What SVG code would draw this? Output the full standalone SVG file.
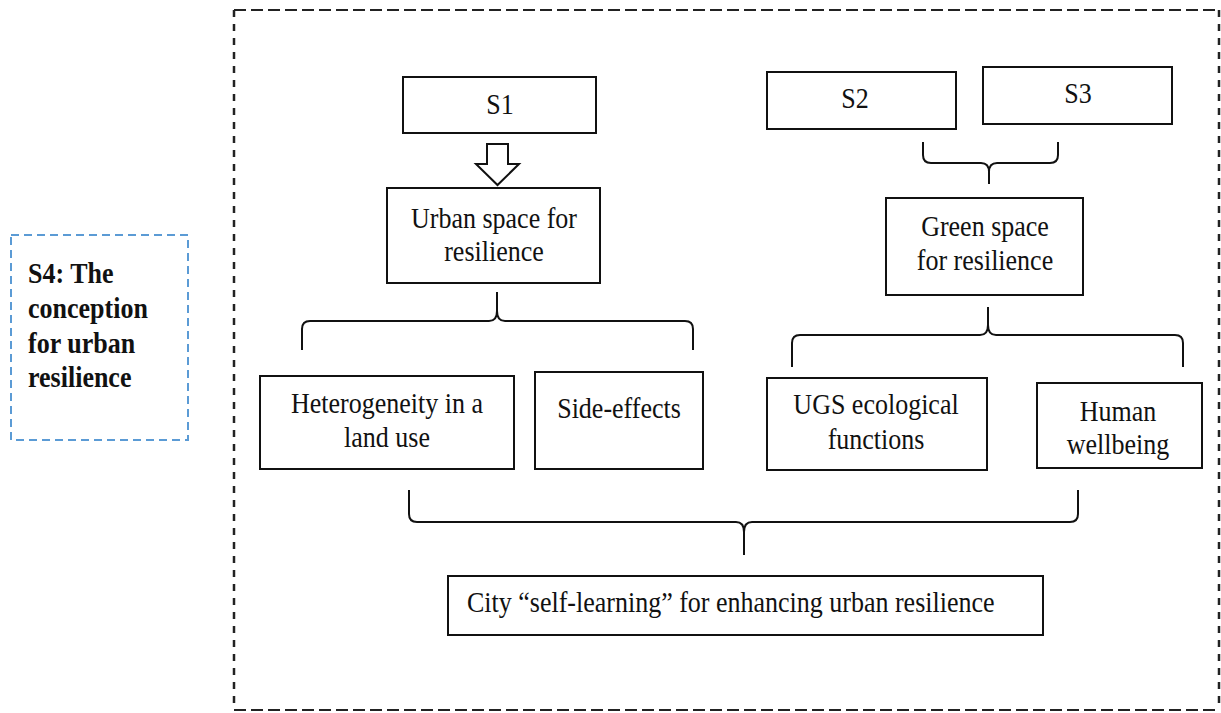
<svg xmlns="http://www.w3.org/2000/svg" width="1221" height="713" viewBox="0 0 1221 713">
  <style>
    .box { fill: #ffffff; stroke: #111111; stroke-width: 2; }
    .lbl { font-family: "Liberation Serif", "Times New Roman", serif; font-size: 26px; fill: #111111; }
    .mid { text-anchor: middle; }
    .bold { font-weight: bold; }
    .brace { fill: none; stroke: #111111; stroke-width: 2; }
    .frame-h { stroke: #222222; stroke-width: 2; stroke-dasharray: 12 5; }
    .frame-v { stroke: #222222; stroke-width: 2.5; stroke-dasharray: 7 7; }
    .s4-frame { fill: none; stroke: #5b9bd5; stroke-width: 2; stroke-dasharray: 8 5; }
  </style>

  <rect width="1221" height="713" fill="#ffffff"/>

  <!-- outer dashed frame -->
  <g id="frame">
    <line class="frame-h" x1="234" y1="10" x2="1219" y2="10"/>
    <line class="frame-h" x1="234" y1="710" x2="1219" y2="710"/>
    <line class="frame-v" x1="234" y1="10" x2="234" y2="710"/>
    <line class="frame-v" x1="1219" y1="10" x2="1219" y2="710"/>
  </g>

  <!-- S4 side note (labels drawn slightly tall: scale 1 x 1.12) -->
  <g id="s4">
    <rect class="s4-frame" x="11" y="235" width="177" height="205"/>
    <text class="lbl bold" transform="translate(28 283) scale(1 1.12)">S4: The</text>
    <text class="lbl bold" transform="translate(28 318) scale(1 1.12)">conception</text>
    <text class="lbl bold" transform="translate(28 353) scale(1 1.12)">for urban</text>
    <text class="lbl bold" transform="translate(28 387) scale(1 1.12)">resilience</text>
  </g>

  <g id="s1">
    <rect class="box" x="403" y="77" width="193" height="56"/>
    <text class="lbl mid" transform="translate(500 114) scale(1 1.12)">S1</text>
  </g>

  <g id="s2">
    <rect class="box" x="767" y="72" width="189" height="57"/>
    <text class="lbl mid" transform="translate(855 108) scale(1 1.12)">S2</text>
  </g>

  <g id="s3">
    <rect class="box" x="983" y="67" width="189" height="57"/>
    <text class="lbl mid" transform="translate(1078 103) scale(1 1.12)">S3</text>
  </g>

  <g id="urban-space">
    <rect class="box" x="387" y="188" width="213" height="95"/>
    <text class="lbl mid" transform="translate(494 228) scale(1 1.12)">Urban space for</text>
    <text class="lbl mid" transform="translate(494 261) scale(1 1.12)">resilience</text>
  </g>

  <g id="green-space">
    <rect class="box" x="886" y="198" width="197" height="97"/>
    <text class="lbl mid" transform="translate(985 236) scale(1 1.12)">Green space</text>
    <text class="lbl mid" transform="translate(985 270) scale(1 1.12)">for resilience</text>
  </g>

  <g id="heterogeneity">
    <rect class="box" x="260" y="376" width="254" height="93"/>
    <text class="lbl mid" transform="translate(387 413) scale(1 1.12)">Heterogeneity in a</text>
    <text class="lbl mid" transform="translate(387 447) scale(1 1.12)">land use</text>
  </g>

  <g id="side-effects">
    <rect class="box" x="535" y="372" width="168" height="97"/>
    <text class="lbl mid" transform="translate(619 418) scale(1 1.12)">Side-effects</text>
  </g>

  <g id="ugs-functions">
    <rect class="box" x="767" y="378" width="220" height="92"/>
    <text class="lbl mid" transform="translate(876 414) scale(1 1.12)">UGS ecological</text>
    <text class="lbl mid" transform="translate(876 449) scale(1 1.12)">functions</text>
  </g>

  <g id="human-wellbeing">
    <rect class="box" x="1037" y="383" width="165" height="85"/>
    <text class="lbl mid" transform="translate(1118 421) scale(1 1.12)">Human</text>
    <text class="lbl mid" transform="translate(1118 454) scale(1 1.12)">wellbeing</text>
  </g>

  <g id="self-learning">
    <rect class="box" x="448" y="576" width="595" height="59"/>
    <text class="lbl" transform="translate(467 612) scale(1 1.12)">City “self-learning” for enhancing urban resilience</text>
  </g>

  <!-- connectors: hollow arrow and braces -->
  <g id="connectors">
    <polygon class="box" points="487,144 508,144 508,164 519,164 497.5,185 476,164 487,164"/>
    <path class="brace" d="M923,142 L923,155 Q923,163 931,163 L981,163 Q989,163 989,172 L989,184 M989,172 Q989,163 997,163 L1050,163 Q1058,163 1058,155 L1058,142"/>
    <path class="brace" d="M302,350 L302,329 Q302,321 310,321 L489,321 Q497,321 497,311 L497,292 M497,311 Q497,321 505,321 L685,321 Q693,321 693,329 L693,350"/>
    <path class="brace" d="M792,367 L792,343 Q792,335 800,335 L980,335 Q988,335 988,325 L988,307 M988,325 Q988,335 996,335 L1175,335 Q1183,335 1183,343 L1183,367"/>
    <path class="brace" d="M409,490 L409,514 Q409,522 417,522 L736,522 Q744,522 744,532 L744,555 M744,532 Q744,522 752,522 L1070,522 Q1078,522 1078,514 L1078,490"/>
  </g>
</svg>
